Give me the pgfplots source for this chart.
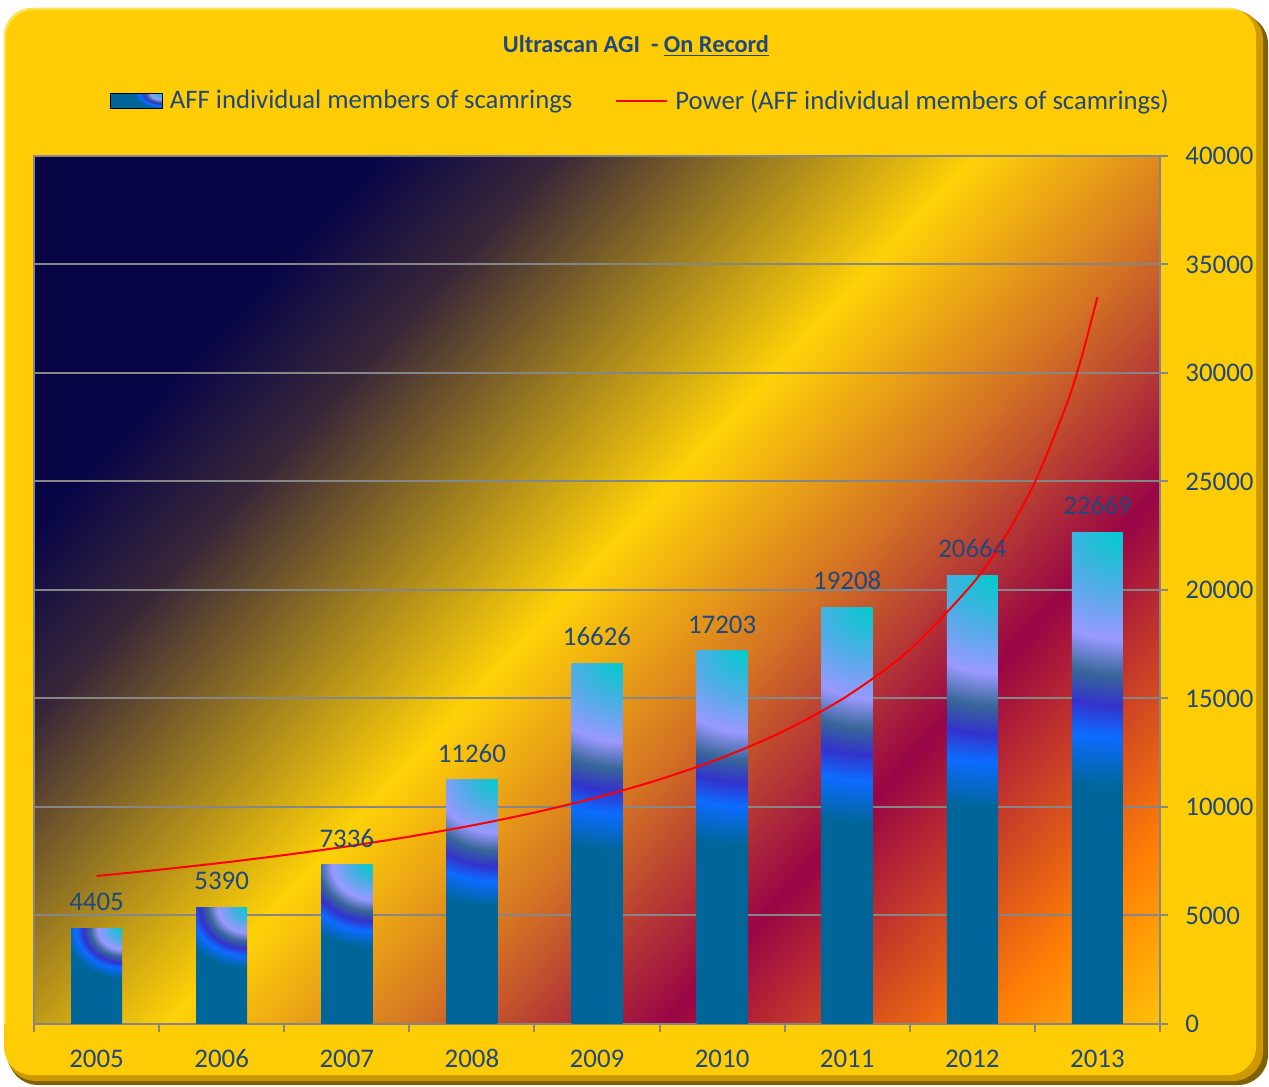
\documentclass[border=0pt]{standalone}
\usepackage{fontspec}
\setmainfont{Carlito}
\usepackage{pgfplots}
\pgfplotsset{compat=1.18}
\definecolor{txtblue}{RGB}{31,73,125}
\definecolor{gridgray}{RGB}{134,134,134}
\definecolor{steelb}{rgb}{0,0.4,0.6}
\definecolor{frgold}{rgb}{1,0.8,0.02}
\definecolor{frmid}{rgb}{0.80,0.60,0.0}
\definecolor{frdark}{rgb}{0.50,0.38,0.02}
\definecolor{frlight}{rgb}{1,0.90,0.30}
\definecolor{bgnavy}{rgb}{0.03,0.02,0.28}
\definecolor{bgpurp}{rgb}{0.22,0.15,0.22}
\definecolor{bggold}{rgb}{1.0,0.82,0.03}
\definecolor{bgob}{rgb}{0.83,0.45,0.14}
\definecolor{bgcrim}{rgb}{0.60,0.02,0.27}
\definecolor{bgor}{rgb}{1.0,0.50,0.02}
\definecolor{bgyo}{rgb}{1.0,0.75,0.03}
\pgfdeclarehorizontalshading{plotbg}{100bp}{color(0bp)=(bgnavy); color(34.09bp)=(bgnavy); color(38.67bp)=(bgpurp); color(49.35bp)=(bggold); color(55.70bp)=(bgob); color(62.06bp)=(bgcrim); color(70.44bp)=(bgor); color(74.56bp)=(bgyo); color(100bp)=(bgyo)}
\newcommand\barshading[3]{%
\pgfdeclarefunctionalshading{#1}{\pgfpointorigin}{\pgfpoint{100bp}{100bp}}{}{%
75 exch sub 50 div #3 mul dup mul exch 75 exch sub 50 div #2 mul dup mul add sqrt
dup 0.22 lt {0.22 div dup 0.30 mul exch dup -0.12 mul 0.80 add exch 0.10 mul 0.80 add}
{dup 0.42 lt {0.22 sub 0.20 div dup 0.30 mul 0.30 add exch dup -0.08 mul 0.68 add exch 0.10 mul 0.90 add}
{dup 0.56 lt {0.42 sub 0.14 div dup -0.38 mul 0.60 add exch dup -0.20 mul 0.60 add exch -0.40 mul 1.00 add}
{dup 0.68 lt {0.56 sub 0.12 div dup -0.02 mul 0.22 add exch dup -0.20 mul 0.40 add exch 0.20 mul 0.60 add}
{dup 0.80 lt {0.68 sub 0.12 div dup -0.15 mul 0.20 add exch dup 0.22 mul 0.20 add exch 0.20 mul 0.80 add}
{dup 1.0 lt {0.80 sub 0.20 div dup -0.05 mul 0.05 add exch dup -0.02 mul 0.42 add exch -0.40 mul 1.00 add}
{pop 0 0.4 0.6} ifelse} ifelse} ifelse} ifelse} ifelse} ifelse
}}
\barshading{barA}{0.889}{1.923}
\barshading{barB}{0.727}{1.923}
\barshading{barC}{0.534}{1.923}
\barshading{barD}{0.348}{1.923}
\barshading{barE}{0.236}{1.923}
\barshading{barF}{0.228}{1.923}
\barshading{barG}{0.204}{1.923}
\barshading{barH}{0.190}{1.923}
\barshading{barI}{0.173}{1.923}
\barshading{legbar}{1.9}{1.0}
\pgfplotsset{
  mybar/.style={ybar, bar width=25.5bp, bar shift=0pt, draw=none, fill=steelb, shading=#1, forget plot,
    nodes near coords,
    every node near coord/.append style={font=\fontsize{13.5}{16}\selectfont, text=txtblue, inner sep=0pt, anchor=south, yshift=8.5bp}},
}
\begin{document}
\begin{tikzpicture}
\useasboundingbox (-17bp,-31.5bp) rectangle (617.5bp,512bp);
% outer frame
\fill[frdark, rounded corners=15bp] (-13bp,-30.5bp) rectangle (617bp,505bp);
\fill[frmid, rounded corners=15bp] (-14bp,-28.5bp) rectangle (614.5bp,507bp);
\fill[frgold, rounded corners=14bp] (-15bp,-25.5bp) rectangle (611bp,508bp);
\draw[frlight, line width=1bp, rounded corners=14bp] (-14.5bp,0bp) -- (-14.5bp,507.5bp) -- (600bp,507.5bp);
% plot area background
\begin{scope}
\clip (0,0) rectangle (563bp,434bp);
\shade[shading=plotbg, shading angle=-42.9] (-78.5bp,-143bp) rectangle ++(720bp,720bp);
\end{scope}
% title
\node[text=txtblue, font=\fontsize{12.2}{14}\selectfont\bfseries] at (301bp,489bp) {Ultrascan AGI\ \ - \underline{On Record}};
\begin{axis}[
  at={(0,0)}, anchor=south west,
  scale only axis, width=563bp, height=434bp,
  xmin=-0.5, xmax=8.5, ymin=0, ymax=40000,
  xtick={-0.5,0.5,...,8.5},
  x tick label as interval,
  xticklabels={2005,2006,2007,2008,2009,2010,2011,2012,2013},
  ytick={0,5000,...,40000},
  xtick pos=left, ytick pos=right, yticklabel pos=right,
  tick align=outside,
  major tick length=4bp,
  tick style={gridgray, line width=1bp},
  ymajorgrids, major grid style={gridgray, line width=1bp},
  axis line style={gridgray, line width=1bp},
  scaled y ticks=false,
  /pgf/number format/1000 sep={},
  /pgf/number format/assume math mode=true,
  tick label style={font=\fontsize{13.5}{16}\selectfont, text=txtblue},
  yticklabel style={anchor=west, inner sep=0pt, xshift=8.5bp},
  xticklabel style={anchor=north, inner sep=0pt, text height=8.6bp, text depth=0pt, yshift=-9bp},
  legend columns=2,
  legend style={at={(0.5386,1.0634)}, anchor=center, draw=none, fill=none,
    font=\fontsize{13.4}{16}\selectfont, text=txtblue,
    nodes={inner sep=1.25bp},
    /tikz/every odd column/.append style={column sep=2.5bp},
    /tikz/every even column/.append style={column sep=20bp}},
]
\addlegendimage{legend image code/.code={\shade[shading=legbar] (0bp,-3.75bp) rectangle (26bp,3.75bp);}}
\addlegendentry{AFF individual members of scamrings}
\addlegendimage{legend image code/.code={\draw[red, line width=1bp] (0bp,0bp) -- (25.5bp,0bp);}}
\addlegendentry{Power (AFF individual members of scamrings)}
\addplot[mybar=barA] coordinates {(0,4405)};
\addplot[mybar=barB] coordinates {(1,5390)};
\addplot[mybar=barC] coordinates {(2,7336)};
\addplot[mybar=barD] coordinates {(3,11260)};
\addplot[mybar=barE] coordinates {(4,16626)};
\addplot[mybar=barF] coordinates {(5,17203)};
\addplot[mybar=barG] coordinates {(6,19208)};
\addplot[mybar=barH] coordinates {(7,20664)};
\addplot[mybar=barI] coordinates {(8,22669)};
\addplot[red, line width=1bp, smooth, forget plot] coordinates {
(0,6821) (0.5,7109) (1,7428) (1.5,7784) (2,8182) (2.5,8634) (3,9149) (3.5,9744) (4,10441) (4.5,11269) (5,12273) (5.5,13519) (6,15116) (6.5,17250) (7,20277) (7.25,22336) (7.5,24975) (7.75,28502) (7.875,30762) (8,33502)};
\end{axis}
\end{tikzpicture}
\end{document}
